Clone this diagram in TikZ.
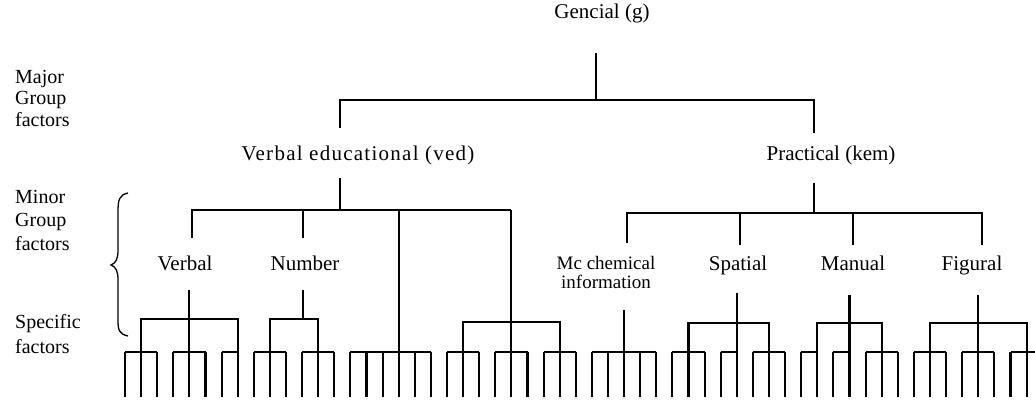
\documentclass[tikz,border=0pt]{standalone}
\usepackage{fontspec}
\setmainfont{Liberation Serif}
\begin{document}
\begin{tikzpicture}[x=1pt,y=-1pt,line join=miter]
\tikzset{
  lbl/.style={font=\fontsize{21}{25}\selectfont,inner sep=0pt,anchor=base},
  side/.style={font=\fontsize{20}{22}\selectfont,inner sep=0pt,anchor=base west},
  tree/.style={line width=2.1pt},
  bracestyle/.style={line width=1.3pt}
}
\useasboundingbox (0,0) rectangle (1035,402);
\pgfmathsetmacro{\xo}{125}
\pgfmathsetmacro{\dx}{16.1}
\def\yb{397}
\def\ys{352}
% ---------- labels ----------
\node[lbl] (g) at (602,18) {Gencial (g)};
\node[lbl] (ved) at (358,160) {\addfontfeatures{LetterSpace=6}Verbal educational (ved)};
\node[lbl] (kem) at (831,160) {Practical (kem)};
\node[lbl] (verbal) at (185,270) {Verbal};
\node[lbl] (number) at (305,270) {Number};
\node[font=\fontsize{19}{19.5}\selectfont,inner sep=0pt,anchor=north,align=center] (mc) at (606,256) {Mc chemical\\information};
\node[lbl] (spatial) at (738,270) {Spatial};
\node[lbl] (manual) at (853,270) {Manual};
\node[lbl] (figural) at (972,270) {Figural};
% side labels
\node[side] (maj1) at (15,83) {Major};
\node[side] (maj2) at (15,104) {Group};
\node[side] (maj3) at (15,126) {factors};
\node[side] (min1) at (15,203) {Minor};
\node[side] (min2) at (15,226) {Group};
\node[side] (min3) at (15,250) {factors};
\node[side] (spe1) at (15,328) {Specific};
\node[side] (spe2) at (15,353) {factors};
% brace
\draw[bracestyle] (128,193) .. controls (119,195) and (118,200) .. (118,212) -- (118,250)
  .. controls (118,259) and (116,263) .. (111,265)
  .. controls (116,267) and (118,271) .. (118,280) -- (118,320)
  .. controls (118,330) and (119,334) .. (128,336);
% ---------- upper tree ----------
\coordinate (gs) at (596,53);
\coordinate (gj) at (596,100);
\coordinate (mjl) at (340,100);
\coordinate (mjr) at (814,100);
\draw[tree] (gs) -- (gj);
\draw[tree] (340,128) -- (mjl) -- (mjr) -- (814,133);
% ved
\pgfmathsetmacro{\xa}{\xo+17*\dx}
\pgfmathsetmacro{\xb}{\xo+24*\dx}
\draw[tree] (340,178) -- (340,210);
\draw[tree] (192,238) -- (192,210) -- (\xb,210);
\draw[tree] (303,210) -- (303,238);
\draw[tree] (\xa,210) -- (\xa,\yb);
\draw[tree] (\xb,210) -- (\xb,\yb);
% kem
\draw[tree] (814,183) -- (814,213);
\draw[tree] (627,243) -- (627,213) -- (982,213) -- (982,245);
\draw[tree] (740,213) -- (740,245);
\draw[tree] (853,213) -- (853,245);
% ---------- specific comb ----------
\foreach \i in {0,...,56}{
  \draw[tree] ({\xo+\i*\dx},\ys) -- ({\xo+\i*\dx},\yb);
}
\foreach \a/\b in {0/2,3/5,6/7,8/10,11/13,14/19,20/22,23/25,26/28,29/33,34/36,37/38,39/41,42/43,44/45,46/48,49/51,52/54}{
  \draw[tree] ({\xo+\a*\dx},\ys) -- ({\xo+\b*\dx},\ys);
}
\draw[tree] ({\xo+55*\dx},\ys) -- (1035,\ys);
% mid bars: from/to/y
\foreach \a/\b/\y in {1/7/319,9/12/319,21/27/322,35/40/323,43/47/323,50/56/323}{
  \draw[tree] ({\xo+\a*\dx},\ys) -- ({\xo+\a*\dx},\y) -- ({\xo+\b*\dx},\y) -- ({\xo+\b*\dx},\ys);
}
% stems below minor labels
\draw[tree] ({\xo+4*\dx},290) -- ({\xo+4*\dx},\ys);
\draw[tree] (303,290) -- (303,319);
\draw[tree] ({\xo+31*\dx},310) -- ({\xo+31*\dx},\ys);
\draw[tree] ({\xo+38*\dx},293) -- ({\xo+38*\dx},\ys);
\draw[tree] ({\xo+45*\dx},295) -- ({\xo+45*\dx},\ys);
\draw[tree] ({\xo+53*\dx},295) -- ({\xo+53*\dx},\ys);
\end{tikzpicture}
\end{document}
